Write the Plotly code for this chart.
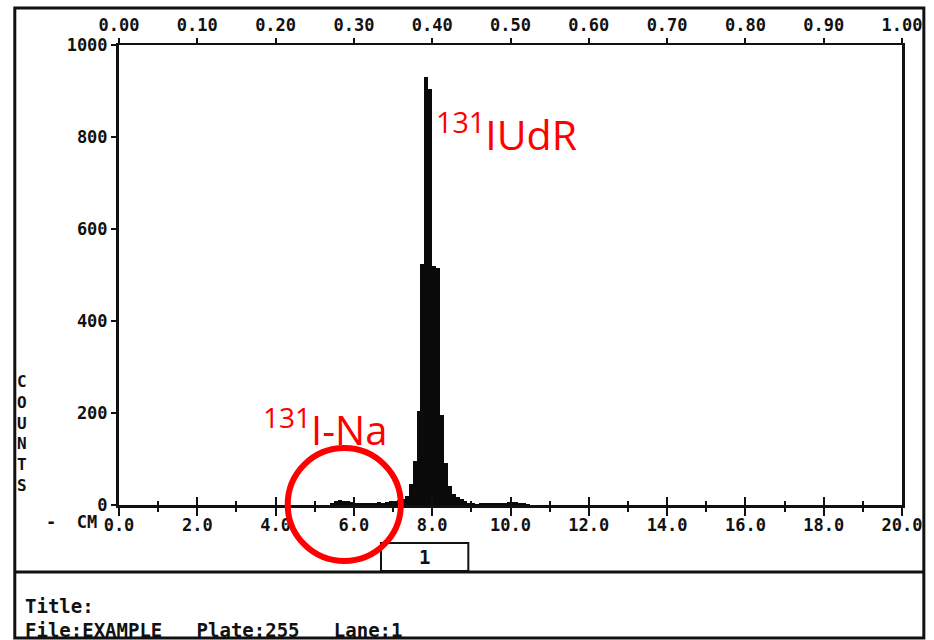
import plotly.graph_objects as go

# ---- data ----
position_cm = [5.45, 5.55, 5.65, 5.75, 5.85, 5.95, 6.05, 6.15, 6.25, 6.35, 6.45, 6.55,
               6.65, 6.75, 6.85, 6.95, 7.05, 7.15, 7.25, 7.35, 7.45, 7.55, 7.65, 7.75,
               7.85, 7.95, 8.05, 8.15, 8.25, 8.35, 8.45, 8.55, 8.65, 8.75, 8.85, 8.95,
               9.05, 9.15, 9.25, 9.35, 9.45, 9.55, 9.65, 9.75, 9.85, 9.95, 10.05, 10.15,
               10.25, 10.35, 10.45]
counts = [3, 8, 10, 9, 8, 6, 5, 4, 5, 5, 4, 5,
          6, 5, 7, 8, 8, 10, 14, 20, 45, 95, 205, 525,
          930, 905, 520, 515, 195, 92, 42, 25, 18, 12, 8, 5,
          3, 2, 3, 4, 4, 5, 4, 3, 5, 7, 7, 6,
          4, 3, 2]

cm_ticks = [0, 2, 4, 6, 8, 10, 12, 14, 16, 18, 20]
cm_labels = ["0.0", "2.0", "4.0", "6.0", "8.0", "10.0", "12.0", "14.0", "16.0", "18.0", "20.0"]
rf_ticks = [0.0, 0.1, 0.2, 0.3, 0.4, 0.5, 0.6, 0.7, 0.8, 0.9, 1.0]
rf_labels = ["0.00", "0.10", "0.20", "0.30", "0.40", "0.50", "0.60", "0.70", "0.80", "0.90", "1.00"]
count_ticks = [0, 200, 400, 600, 800, 1000]
count_labels = ["0", "200", "400", "600", "800", "1000"]

# ---- layout geometry (pixels) ----
W, H = 934, 640
PL, PR, PT, PB = 119, 908, 45, 505


def px(x):
    return (x - PL) / (PR - PL)


def py(y):
    return (PB - y) / (PB - PT)


MONO = "DejaVu Sans Mono"
tickfont = dict(family=MONO, size=17, color="#111111", weight="bold")

fig = go.Figure()
fig.add_trace(go.Bar(x=position_cm, y=counts, width=0.1, marker_color="#0a0a0a",
                     marker_line_width=0, showlegend=False, hoverinfo="x+y"))
# helper traces to activate overlay axes
fig.add_trace(go.Scatter(x=[None], y=[None], xaxis="x2", yaxis="y", showlegend=False))
fig.add_trace(go.Scatter(x=[None], y=[None], xaxis="x3", yaxis="y", showlegend=False))

minor_cm = [1, 3, 5, 7, 9, 11, 13, 15, 17, 19]

fig.update_layout(
    width=W, height=H,
    margin=dict(l=PL, r=W - PR, t=PT, b=H - PB),
    paper_bgcolor="white", plot_bgcolor="white",
    bargap=0,
    xaxis=dict(range=[0, 20], tickvals=cm_ticks, ticktext=cm_labels,
               ticks="outside", ticklen=8, tickwidth=2, tickcolor="#111",
               ticklabelstandoff=-5,
               minor=dict(tickvals=minor_cm, ticks="outside",
                          ticklen=4, tickwidth=2, tickcolor="#111"),
               showline=True, linewidth=3, linecolor="#111", showgrid=False,
               zeroline=False, tickfont=tickfont, fixedrange=True),
    xaxis3=dict(range=[0, 20], overlaying="x", anchor="y", side="bottom",
                tickvals=cm_ticks, ticks="inside", ticklen=8, tickwidth=2, tickcolor="#111",
                minor=dict(tickvals=minor_cm, ticks="inside",
                           ticklen=4, tickwidth=2, tickcolor="#111"),
                showticklabels=False, showline=False, showgrid=False, zeroline=False),
    xaxis2=dict(range=[0, 1], overlaying="x", anchor="y", side="top",
                tickvals=rf_ticks, ticktext=rf_labels, ticks="outside", ticklen=5,
                tickwidth=2, tickcolor="#111", showline=True, linewidth=2,
                linecolor="#111", showgrid=False, zeroline=False, tickfont=tickfont),
    yaxis=dict(range=[0, 1000], tickvals=count_ticks, ticktext=count_labels,
               ticks="outside", ticklen=5, tickwidth=2, tickcolor="#111",
               showline=True, linewidth=3, linecolor="#111", mirror=True,
               showgrid=False, zeroline=False, tickfont=tickfont),
)

shapes = [
    # outer frame
    dict(type="rect", xref="paper", yref="paper", x0=px(14), x1=px(930), y0=py(8), y1=py(638),
         line=dict(color="#111", width=3)),
    # separator of info box
    dict(type="line", xref="paper", yref="paper", x0=px(14), x1=px(930), y0=py(572), y1=py(572),
         line=dict(color="#111", width=3)),
    # lane box
    dict(type="rect", xref="paper", yref="paper", x0=px(383), x1=px(471), y0=py(543), y1=py(571),
         line=dict(color="#111", width=2)),
    # red circle
    dict(type="circle", xref="paper", yref="paper", x0=px(289), x1=px(403), y0=py(448), y1=py(561),
         line=dict(color="#ff0000", width=6)),
]
fig.update_layout(shapes=shapes)

ann = [
    dict(text="<sup>131</sup>IUdR", x=px(436), y=py(100), xanchor="left", yanchor="top",
         font=dict(family="Open Sans", size=41, color="#ff0000")),
    dict(text="<sup>131</sup>I-Na", x=px(262), y=py(396), xanchor="left", yanchor="top",
         font=dict(family="Open Sans", size=40, color="#ff0000")),
    dict(text="-  CM", x=px(99), y=py(522), xanchor="right", yanchor="middle",
         font=tickfont),
    dict(text="C<br>O<br>U<br>N<br>T<br>S", x=px(21), y=py(433), xanchor="center",
         yanchor="middle", font=dict(family=MONO, size=16, color="#111", weight="bold")),
    dict(text="1", x=px(427), y=py(557), xanchor="center", yanchor="middle",
         font=dict(family=MONO, size=19, color="#111", weight="bold")),
    dict(text="Title:", x=px(22), y=py(606), xanchor="left", yanchor="middle",
         font=dict(family=MONO, size=19, color="#111", weight="bold")),
    dict(text="File:EXAMPLE   Plate:255   Lane:1", x=px(22), y=py(630), xanchor="left",
         yanchor="middle", font=dict(family=MONO, size=19, color="#111", weight="bold")),
]
for a in ann:
    a.update(xref="paper", yref="paper", showarrow=False)
fig.update_layout(annotations=ann)

fig.write_html("out.html")
